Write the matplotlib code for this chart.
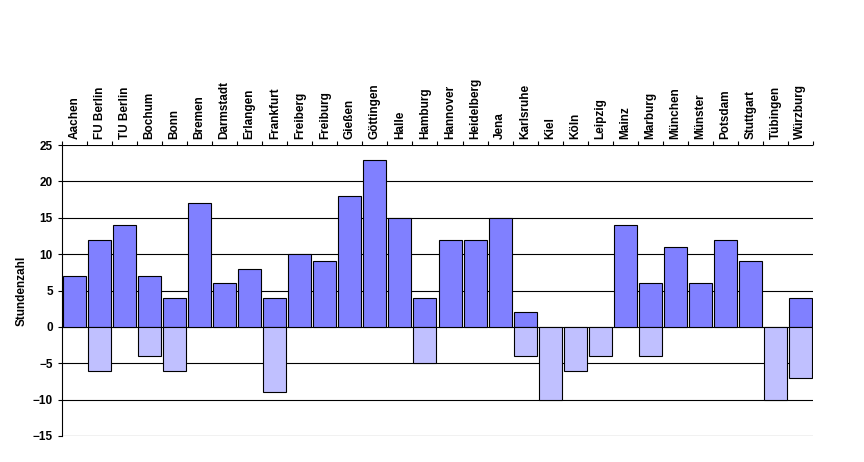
import numpy as np
import matplotlib.pyplot as plt

cities = ["Aachen", "FU Berlin", "TU Berlin", "Bochum", "Bonn", "Bremen", "Darmstadt",
          "Erlangen", "Frankfurt", "Freiberg", "Freiburg", "Gießen", "Göttingen", "Halle",
          "Hamburg", "Hannover", "Heidelberg", "Jena", "Karlsruhe", "Kiel", "Köln", "Leipzig",
          "Mainz", "Marburg", "München", "Münster", "Potsdam", "Stuttgart", "Tübingen", "Würzburg"]
plus = [7, 12, 14, 7, 4, 17, 6, 8, 4, 10, 9, 18, 23, 15, 4, 12, 12, 15, 2, 0, 0, 0,
        14, 6, 11, 6, 12, 9, 0, 4]
minus = [0, -6, 0, -4, -6, 0, 0, 0, -9, 0, 0, 0, 0, 0, -5, 0, 0, 0, -4, -10, -6, -4,
         0, -4, 0, 0, 0, 0, -10, -7]

plt.rcParams['font.family'] = ['Liberation Sans', 'DejaVu Sans']
plt.rcParams['font.weight'] = 'bold'

fig = plt.figure(figsize=(8.64, 4.62), dpi=100)
ax = fig.add_axes([62/864, 1-436/462, (813-62)/864, (436-145)/462])
x = np.arange(len(cities))
for v, c in ((plus, '#8080FF'), (minus, '#C0C0FF')):
    vals = np.array(v, dtype=float)
    m = vals != 0
    ax.bar(x[m], vals[m], width=0.92, color=c, edgecolor='black', linewidth=0.8, zorder=3)

ax.set_xlim(-0.5, len(cities) - 0.5)
ax.set_ylim(-15, 25)
ax.set_yticks(range(-15, 26, 5))
for yv in range(-15, 26, 5):
    ax.axhline(yv, color='black', linewidth=0.8, zorder=1)
for s in ('top', 'right', 'bottom'):
    ax.spines[s].set_visible(False)
ax.spines['left'].set_linewidth(0.8)
ax.tick_params(axis='y', labelsize=8.5, length=3, width=0.8)
ax.xaxis.tick_top()
ax.set_xticks(x)
ax.set_xticklabels(cities, rotation=90, fontsize=8.5)
ax.tick_params(axis='x', length=0, pad=4)
ax.set_xticks(np.arange(-0.5, len(cities)), minor=True)
ax.tick_params(axis='x', which='minor', length=3, width=0.8, top=True, bottom=False)
ax.set_ylabel('Stundenzahl', fontsize=8.5, fontweight='bold')

fig.savefig('out.png', dpi=100)
